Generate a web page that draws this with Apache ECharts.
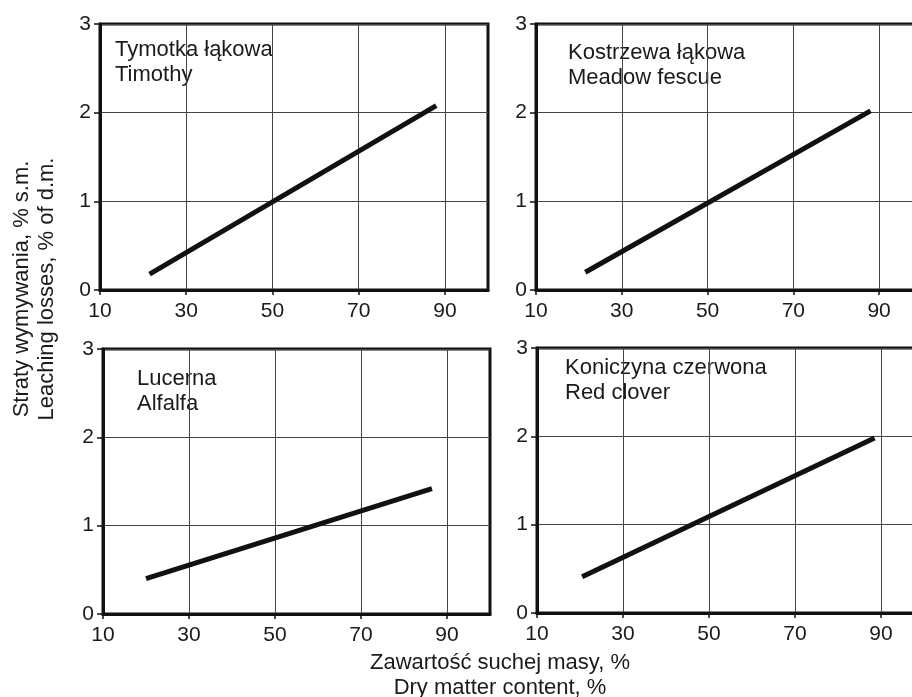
<!DOCTYPE html>
<html>
<head>
<meta charset="utf-8">
<script src="https://cdn.jsdelivr.net/npm/echarts@6/dist/echarts.min.js"></script>
<style>
  html, body { margin: 0; padding: 0; background: #fff; }
  #chart { width: 912px; height: 697px; }
</style>
</head>
<body>
<div id="chart"></div>
<script>
// dane: [zawartość s.m. %, straty % s.m.]
const timothy = [[21.5, 0.18], [88, 2.08]];
const meadowFescue = [[21.5, 0.2], [88, 2.02]];
const alfalfa = [[20, 0.4], [86.5, 1.42]];
const redClover = [[20.5, 0.41], [88.5, 1.98]];

const xTicks = [10, 30, 50, 70, 90];
const panelNames = [
  "Tymotka łąkowa\nTimothy",
  "Kostrzewa łąkowa\nMeadow fescue",
  "Lucerna\nAlfalfa",
  "Koniczyna czerwona\nRed clover"
];
const yTitle = ["Straty wymywania, % s.m.", "Leaching losses, % of d.m."];
const xTitle = ["Zawartość suchej masy, %", "Dry matter content, %"];

const font = "Liberation Sans, Arial, sans-serif";
const textColor = "#1a1a1a";

// położenie paneli (prawe wychodzą poza obrazek)
const grids = [
  { left: 100, top: 24, width: 388, height: 266 },
  { left: 536, top: 24, width: 386, height: 266 },
  { left: 103, top: 349, width: 387, height: 265 },
  { left: 537, top: 348, width: 387, height: 265 }
];
const labelPos = [[115, 37], [568, 40], [137, 366], [565, 355]];
const seriesData = [timothy, meadowFescue, alfalfa, redClover];

let chart = echarts.init(document.getElementById("chart"));

let option = {
  backgroundColor: "#fff",
  animation: false,
  grid: grids.map(g => Object.assign({
    show: true,
    borderColor: "#111",
    borderWidth: 3,
    containLabel: false,
    outerBoundsMode: "none"
  }, g)),
  xAxis: grids.map((g, i) => ({
    gridIndex: i,
    type: "value",
    min: 10,
    max: 100,
    axisLine: { show: true, lineStyle: { color: "#111", width: 3 } },
    axisTick: { show: true, length: 5, customValues: xTicks, lineStyle: { color: "#111", width: 1.5 } },
    axisLabel: { customValues: xTicks, margin: 11, fontSize: 21, fontFamily: font, color: textColor },
    splitLine: { show: true, lineStyle: { color: "#444", width: 1 } }
  })),
  yAxis: grids.map((g, i) => ({
    gridIndex: i,
    type: "value",
    min: 0,
    max: 3,
    interval: 1,
    axisLine: { show: true, lineStyle: { color: "#111", width: 3 } },
    axisTick: { show: true, length: 6, lineStyle: { color: "#111", width: 1.5 } },
    axisLabel: { margin: 9, fontSize: 21, fontFamily: font, color: textColor },
    splitLine: { show: true, lineStyle: { color: "#444", width: 1 } }
  })),
  series: seriesData.map((d, i) => ({
    type: "line",
    xAxisIndex: i,
    yAxisIndex: i,
    data: d,
    symbol: "none",
    lineStyle: { color: "#111", width: 5 }
  })),
  graphic: [].concat(
    // nazwy roślin
    panelNames.map((t, i) => ({
      type: "text",
      x: labelPos[i][0],
      y: labelPos[i][1],
      style: { text: t, font: "22px " + font, fill: textColor, lineHeight: 25, verticalAlign: "top" }
    })),
    // opis osi Y
    yTitle.map((t, i) => ({
      type: "text",
      x: 22 + i * 25,
      y: 289,
      rotation: Math.PI / 2,
      style: { text: t, font: "22px " + font, fill: textColor, align: "center", verticalAlign: "middle" }
    })),
    // opis osi X
    xTitle.map((t, i) => ({
      type: "text",
      x: 500,
      y: 663 + i * 25,
      style: { text: t, font: "22px " + font, fill: textColor, align: "center", verticalAlign: "middle" }
    }))
  )
};

chart.setOption(option);
</script>
</body>
</html>
